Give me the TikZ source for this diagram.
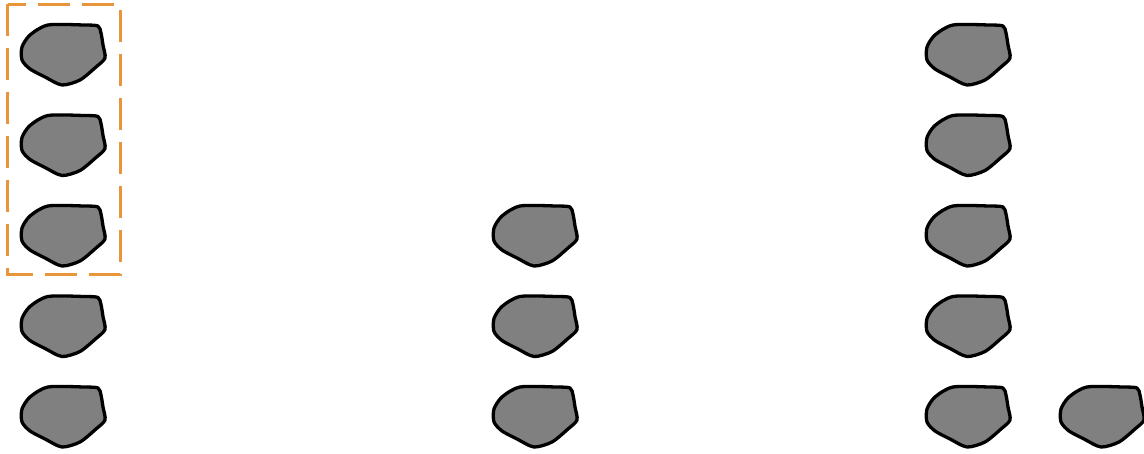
\documentclass[tikz,border=0pt]{standalone}
\definecolor{stonegray}{RGB}{128,128,128}
\definecolor{pickorange}{RGB}{232,150,60}
\tikzset{
    stone/.pic={
        \draw[line width=3.3pt, black, fill=stonegray, line join=round]
            plot[smooth cycle, tension=0.45] coordinates {
                (-14,-30) (22,-30) (36,-29) (39,-22) (41,-10) (43,3) (34,12)
                (18,25) (0,30) (-17,22) (-32,14) (-40,5) (-40,-8) (-32,-20)};
    }
}
\begin{document}
\begin{tikzpicture}[x=1pt, y=-1pt]
\useasboundingbox (0,0) rectangle (1144,454);

\foreach \r in {0,...,4} {
    \pic at (62,55+90.5*\r) {stone};
    \pic at (967,55+90.5*\r) {stone};
}
\foreach \r in {2,...,4} {
    \pic at (534,55+90.5*\r) {stone};
}
\pic at (1101,417) {stone};

\draw[line width=3pt, pickorange, dash pattern=on 32pt off 12pt] (7.5,4.5) rectangle (120,275);
\end{tikzpicture}
\end{document}
